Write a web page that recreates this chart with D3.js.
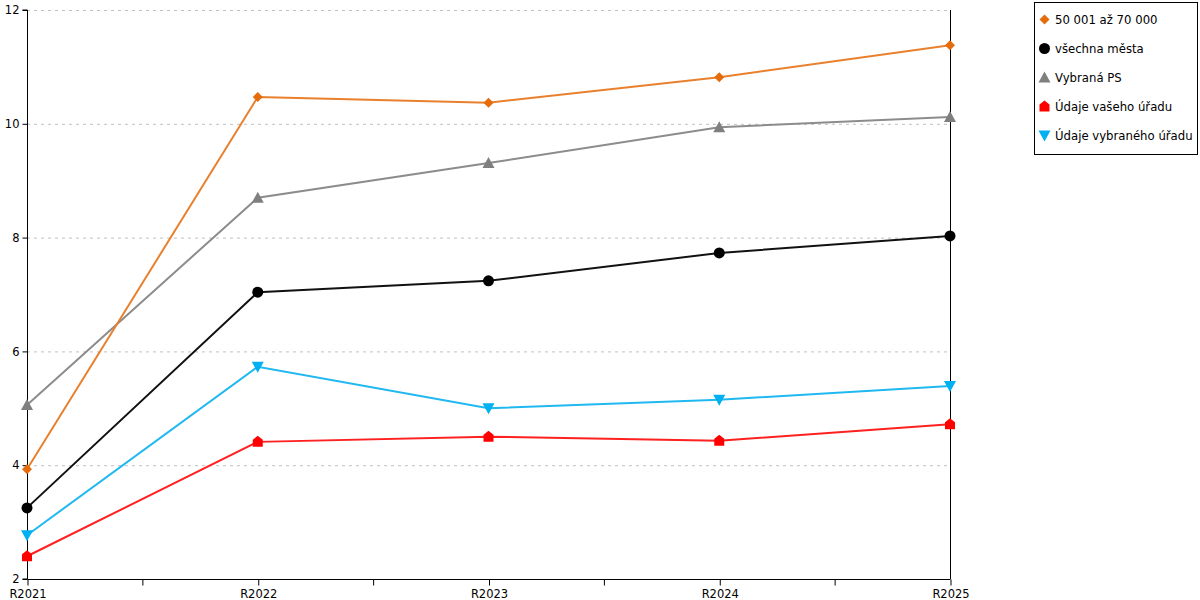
<!DOCTYPE html>
<html>
<head>
<meta charset="utf-8">
<script src="https://cdn.jsdelivr.net/npm/d3@7"></script>
<style>
  body { margin: 0; background: #fff; }
  svg { display: block; font-family: 'DejaVu Sans', sans-serif; }
</style>
</head>
<body>
<div id="chart"></div>
<script>
// data
const years = ['R2021', 'R2022', 'R2023', 'R2024', 'R2025'];
const yTicks = [2, 4, 6, 8, 10, 12];

const mesta_50_70 = [3.93, 10.47, 10.37, 10.82, 11.38];
const vsechna_mesta = [3.25, 7.04, 7.24, 7.73, 8.03];
const vybrana_ps = [5.06, 8.70, 9.31, 9.94, 10.12];
const vas_urad = [2.40, 4.41, 4.50, 4.43, 4.72];
const vybrany_urad = [2.77, 5.73, 5.00, 5.15, 5.39];

const series = [
  { name: '50 001 až 70 000', values: mesta_50_70, color: '#e46c0a', line: '#e8802e', symbol: 'diamond' },
  { name: 'všechna města', values: vsechna_mesta, color: '#000', line: '#111', symbol: 'circle' },
  { name: 'Vybraná PS', values: vybrana_ps, color: '#7f7f7f', line: '#8c8c8c', symbol: 'up' },
  { name: 'Údaje vašeho úřadu', values: vas_urad, color: '#ff0000', line: '#ff2020', symbol: 'house' },
  { name: 'Údaje vybraného úřadu', values: vybrany_urad, color: '#00b0f0', line: '#20b8f0', symbol: 'down' }
];

const width = 1200, height = 600;
const margin = { left: 27, right: 250, top: 10, bottom: 21 };

const svg = d3.select('#chart').append('svg')
  .attr('width', width)
  .attr('height', height)
  .attr('viewBox', [0, 0, width, height]);

const x = d3.scalePoint().domain(years).range([margin.left, width - margin.right]);
const y = d3.scaleLinear().domain([2, 12]).range([height - margin.bottom, margin.top]);

// grid
svg.append('g')
  .selectAll('line')
  .data(yTicks.slice(1))
  .join('line')
  .attr('x1', margin.left).attr('x2', width - margin.right)
  .attr('y1', d => y(d) + 0.5).attr('y2', d => y(d) + 0.5)
  .attr('stroke', '#c0c0c0')
  .attr('stroke-dasharray', '3,4');

// axes
const axisLeft = svg.append('g')
  .attr('transform', `translate(${margin.left + 0.5},0)`)
  .call(d3.axisLeft(y).tickValues(yTicks).tickSize(5).tickPadding(3).tickFormat(d3.format('d')));
axisLeft.select('.domain').attr('d', `M-5,${y(12)}H0V${y(2)}H-5`);

svg.append('line')
  .attr('x1', x('R2025') + 0.5).attr('x2', x('R2025') + 0.5)
  .attr('y1', y(12)).attr('y2', y(2))
  .attr('stroke', '#000');

const axisBottom = svg.append('g')
  .attr('transform', `translate(0.5,${y(2) + 0.5})`)
  .call(d3.axisBottom(x).tickSize(6).tickPadding(4));
axisBottom.select('.domain').attr('d', `M${x('R2021')},0H${x('R2025')}`);

// minor ticks between categories
const step = x.step();
axisBottom.append('g')
  .selectAll('line')
  .data(years.slice(1))
  .join('line')
  .attr('x1', d => x(d) - step / 2).attr('x2', d => x(d) - step / 2)
  .attr('y1', 0).attr('y2', 6)
  .attr('stroke', '#000');

svg.selectAll('.tick text').attr('font-size', 11.5).attr('fill', '#000').attr('font-family', 'DejaVu Sans, sans-serif');

// symbols
function marker(sel, kind, color) {
  if (kind === 'circle') {
    sel.append('circle').attr('r', 5.5).attr('fill', color);
  } else if (kind === 'diamond') {
    sel.append('path').attr('d', 'M0,-5L5,0L0,5L-5,0Z').attr('fill', color);
  } else if (kind === 'up') {
    sel.append('path').attr('d', 'M0,-6L6,5L-6,5Z').attr('fill', color);
  } else if (kind === 'down') {
    sel.append('path').attr('d', 'M-6,-5L6,-5L0,6Z').attr('fill', color);
  } else if (kind === 'house') {
    sel.append('path').attr('d', 'M0,-6L5,-2L5,5L-5,5L-5,-2Z').attr('fill', color);
  }
}

const line = d3.line().x((d, i) => x(years[i])).y(d => y(d));

const plot = svg.append('g');
series.slice().reverse().forEach(s => {
  const g = plot.append('g');
  g.append('path')
    .attr('d', line(s.values))
    .attr('fill', 'none')
    .attr('stroke', s.line)
    .attr('stroke-width', 2);
  s.values.forEach((v, i) => {
    const m = g.append('g').attr('transform', `translate(${x(years[i])},${y(v)})`);
    marker(m, s.symbol, s.color);
  });
});

// legend
const legend = svg.append('g').attr('transform', 'translate(1034.5,2.5)');
legend.append('rect')
  .attr('width', 163).attr('height', 152)
  .attr('fill', '#fff').attr('stroke', '#000');

const items = legend.selectAll('g.item')
  .data(series)
  .join('g')
  .attr('class', 'item')
  .attr('transform', (d, i) => `translate(10,${17 + i * 29})`);
items.each(function (d) { marker(d3.select(this), d.symbol, d.color); });
items.append('text')
  .attr('x', 10.5).attr('dy', '0.35em')
  .attr('font-size', 11.7)
  .text(d => d.name);
</script>
</body>
</html>
